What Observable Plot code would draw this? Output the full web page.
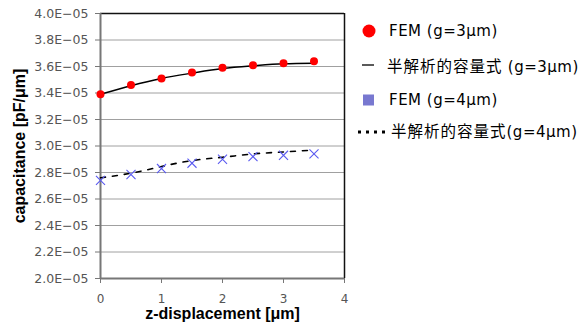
<!DOCTYPE html>
<html><head><meta charset="utf-8">
<script src="https://cdn.jsdelivr.net/npm/d3@7"></script>
<script src="https://cdn.jsdelivr.net/npm/@observablehq/plot@0.6"></script>
<style>
body{margin:0;background:#fff;}
#wrap{position:relative;width:588px;height:325px;overflow:hidden;}
#legend{position:absolute;left:0;top:0;}
</style></head>
<body><div id="wrap"></div>
<script>
const xs = [0, 0.5, 1, 1.5, 2, 2.5, 3, 3.5];
const fem3 = [3.39e-5, 3.46e-5, 3.51e-5, 3.555e-5, 3.59e-5, 3.61e-5, 3.625e-5, 3.64e-5];
const semi3 = [3.39e-5, 3.455e-5, 3.51e-5, 3.55e-5, 3.585e-5, 3.605e-5, 3.62e-5, 3.625e-5];
const fem4 = [2.74e-5, 2.785e-5, 2.83e-5, 2.87e-5, 2.90e-5, 2.92e-5, 2.93e-5, 2.94e-5];
const semi4 = [2.76e-5, 2.795e-5, 2.845e-5, 2.89e-5, 2.915e-5, 2.94e-5, 2.955e-5, 2.97e-5];
const yTicks = [2.0e-5, 2.2e-5, 2.4e-5, 2.6e-5, 2.8e-5, 3.0e-5, 3.2e-5, 3.4e-5, 3.6e-5, 3.8e-5, 4.0e-5];
const xTicks = [0, 1, 2, 3, 4];
// legend entries: [CJK part, latin part]
const seriesNames = [["", "FEM (g=3μm)"], ["半解析的容量式", " (g=3μm)"], ["", "FEM (g=4μm)"], ["半解析的容量式", "(g=4μm)"]];
const xTitle = "z-displacement [μm]";
const yTitle = "capacitance [pF/μm]";

const d3r = xs.map((x, i) => ({x, y: fem3[i]}));
const s3 = xs.map((x, i) => ({x, y: semi3[i]}));
const d4 = xs.map((x, i) => ({x, y: fem4[i]}));
const s4 = xs.map((x, i) => ({x, y: semi4[i]}));

const chart = Plot.plot({
  width: 588, height: 325,
  marginLeft: 100, marginRight: 244, marginTop: 13, marginBottom: 47,
  style: {fontFamily: "DejaVu Sans, sans-serif", background: "white"},
  x: {domain: [0, 4]},
  y: {domain: [2e-5, 4e-5]},
  marks: [
    Plot.gridY(yTicks.slice(1, -1), {stroke: "#a0a0a0", strokeOpacity: 1, strokeWidth: 1}),
    Plot.ruleY([4e-5], {stroke: "#111", strokeWidth: 1.5}),
    Plot.ruleX([4], {stroke: "#111", strokeWidth: 1.5}),
    Plot.ruleY([2e-5], {stroke: "#777", strokeWidth: 2}),
    Plot.ruleX([0], {stroke: "#777", strokeWidth: 2}),
    Plot.axisY({ticks: yTicks, tickSize: 5, tickPadding: 7, fontSize: 12.5, stroke: "#777", color: "#555",
      tickFormat: d => (d / 1e-5).toFixed(1) + "E\u221205", label: null}),
    Plot.axisX({ticks: xTicks, tickSize: 5, tickPadding: 11, fontSize: 12, stroke: "#777", color: "#555",
      tickFormat: d => String(d), label: null}),
    Plot.line(s3, {x: "x", y: "y", curve: "natural", stroke: "black", strokeWidth: 1.5}),
    Plot.line(s4, {x: "x", y: "y", curve: "natural", stroke: "black", strokeWidth: 1.6, strokeDasharray: "5,7"}),
    Plot.dot(d3r, {x: "x", y: "y", r: 4, fill: "red", stroke: "none"}),
    Plot.dot(d4, {x: "x", y: "y", symbol: "times", r: 4.2, stroke: "#5a5af0", strokeWidth: 1.1}),
    Plot.text([xTitle], {frameAnchor: "bottom", dy: 40.5, fontSize: 16, fontWeight: "bold", fill: "black",
      textAnchor: "middle", fontFamily: "Liberation Sans, Arial, sans-serif"}),
    Plot.text([yTitle], {frameAnchor: "left", dx: -81, rotate: -90, fontSize: 16, fontWeight: "bold", fill: "black",
      textAnchor: "middle", fontFamily: "Liberation Sans, Arial, sans-serif"})
  ]
});
const wrap = document.getElementById("wrap");
wrap.appendChild(chart);

// legend
const lg = d3.select(wrap).append("svg").attr("id", "legend").attr("width", 588).attr("height", 325);
const rows = [31, 67, 100, 132];
const font = "'DejaVu Sans', 'Noto Sans CJK JP', sans-serif";
lg.append("circle").attr("cx", 369).attr("cy", rows[0]).attr("r", 6.5).attr("fill", "red");
lg.append("line").attr("x1", 362).attr("x2", 374).attr("y1", rows[1] - 2).attr("y2", rows[1] - 2).attr("stroke", "black").attr("stroke-width", 1.3);
lg.append("rect").attr("x", 363).attr("y", rows[2] - 5.5).attr("width", 11).attr("height", 11).attr("fill", "#7878d0");
lg.append("line").attr("x1", 358).attr("x2", 386).attr("y1", rows[3]).attr("y2", rows[3]).attr("stroke", "black").attr("stroke-width", 3).attr("stroke-dasharray", "3,5");
const tx = [389, 387, 389, 391];
seriesNames.forEach(([cjk, lat], i) => {
  const t = lg.append("text").attr("x", tx[i]).attr("y", rows[i]).attr("dy", "0.36em")
    .attr("font-family", font).attr("font-size", 15).attr("letter-spacing", 0.5).attr("fill", "black");
  if (cjk) t.append("tspan").attr("font-family", "'Noto Sans CJK JP', sans-serif").attr("font-size", 15.5).attr("letter-spacing", 1).text(cjk);
  t.append("tspan").text(lat);
});
</script></body></html>
